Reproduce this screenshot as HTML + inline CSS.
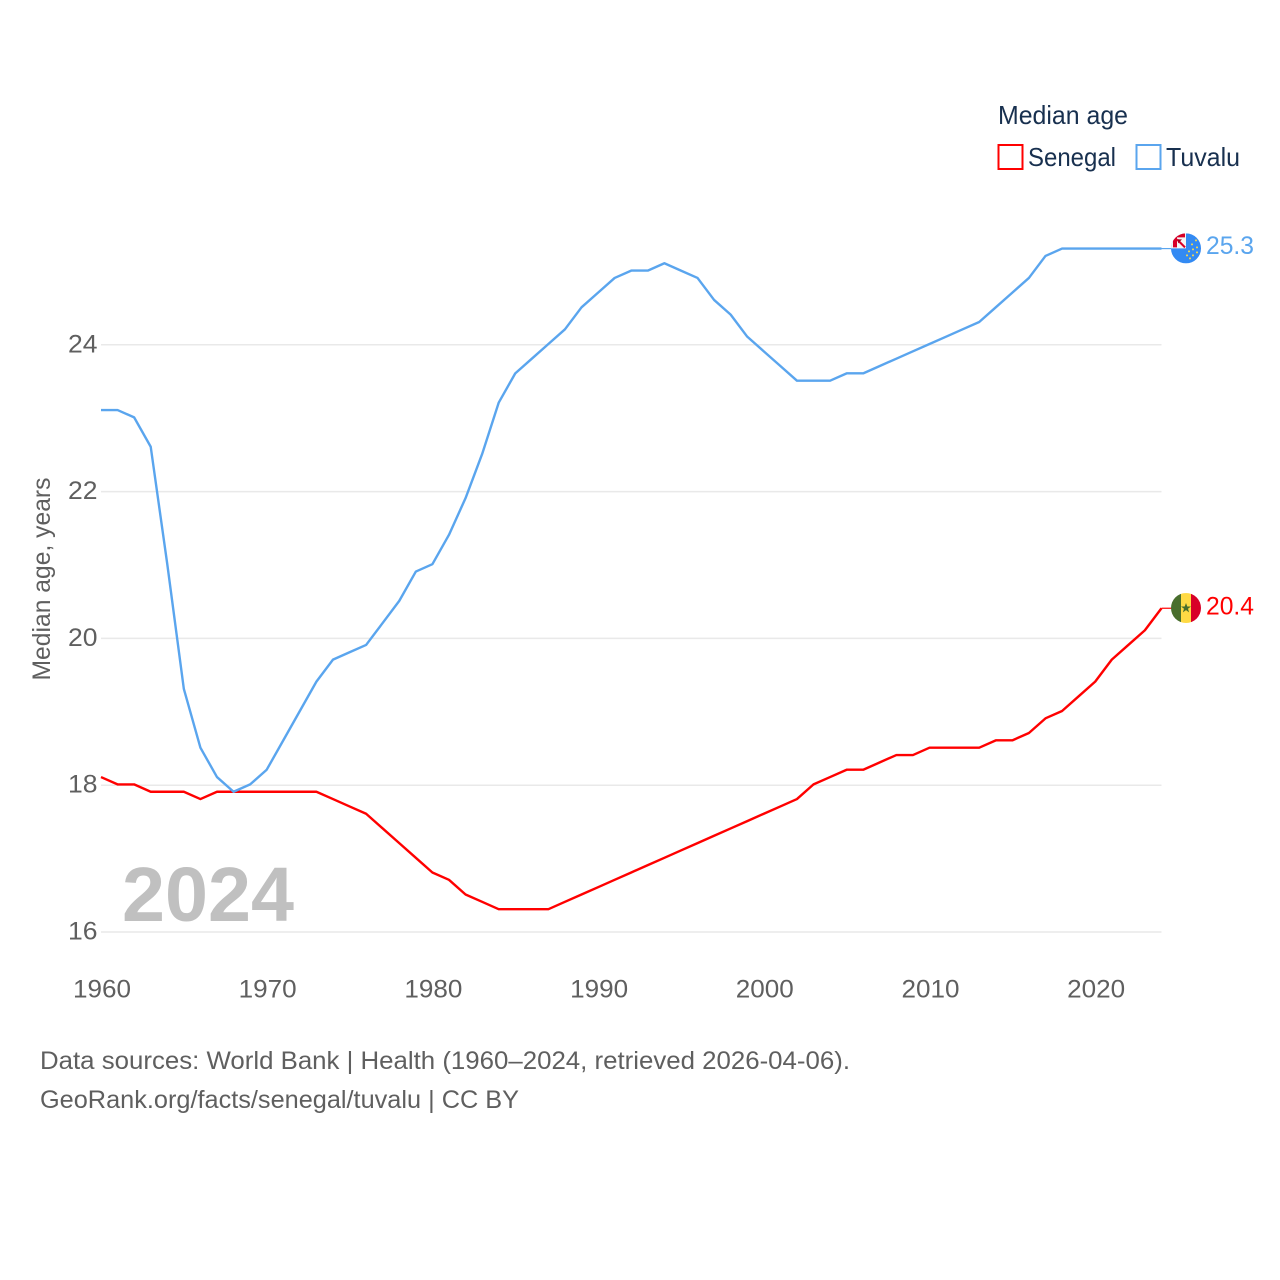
<!DOCTYPE html>
<html lang="en">
<head>
<meta charset="utf-8">
<title>Median age: Senegal and Tuvalu</title>
<style>
  html, body { margin: 0; padding: 0; background: #fff; }
  svg { display: block; }
  text { font-family: "Liberation Sans", sans-serif; }
</style>
</head>
<body>
<svg id="chart" xmlns="http://www.w3.org/2000/svg" width="1280" height="1280" viewBox="0 0 1280 1280">
  <rect width="1280" height="1280" fill="#ffffff"/>
  <g id="grid"></g>
  <g id="yticks"></g>
  <g id="xticks"></g>
  <text transform="translate(50 579) rotate(-90)" text-anchor="middle" font-size="25" fill="#5f5f5f" textLength="203" lengthAdjust="spacingAndGlyphs">Median age, years</text>
  <text x="122" y="921" font-size="77" font-weight="700" fill="#c0c0c0" textLength="172" lengthAdjust="spacingAndGlyphs">2024</text>
  <g id="series"></g>

  <g id="flag-tuvalu">
    <defs>
      <clipPath id="clip-tv"><circle cx="0" cy="0" r="15"/></clipPath>
      <clipPath id="clip-sn"><circle cx="0" cy="0" r="15"/></clipPath>
    </defs>
    <g clip-path="url(#clip-tv)">
      <rect x="-15" y="-15" width="30" height="30" fill="#338af3"/>
      <rect x="-15" y="-15" width="15" height="15" fill="#f5f5f5"/>
      <path d="M-13 -15H-1V-11H-9V-1H-13Z" fill="#d80027"/>
      <path d="M-9 -9L-1 -1" stroke="#d80027" stroke-width="2" fill="none"/>
      <path d="M-8 -5V-9H-4Z" fill="#a2001d"/>
      <g fill="#ffda44">
        <circle cx="10" cy="-8" r="1"/><circle cx="6" cy="-4" r="1"/><circle cx="11" cy="-1" r="1"/>
        <circle cx="7" cy="1" r="1"/><circle cx="11" cy="4" r="1"/><circle cx="3" cy="3" r="1"/>
        <circle cx="7" cy="7" r="1"/><circle cx="1" cy="7" r="1"/><circle cx="4" cy="10" r="1"/>
      </g>
    </g>
  </g>
  <g id="flag-senegal">
    <g clip-path="url(#clip-sn)">
      <rect x="-15" y="-15" width="10" height="30" fill="#496e2d"/>
      <rect x="-5" y="-15" width="10" height="30" fill="#ffda44"/>
      <rect x="5" y="-15" width="10" height="30" fill="#d80027"/>
      <path d="M0 -5L1.3 -1.5H5L2 .7L3.1 4.3L0 2.1L-3.1 4.3L-2 .7L-5 -1.5H-1.3Z" fill="#496e2d"/>
    </g>
  </g>
  <text id="value-tuvalu" x="1206" font-size="25" fill="#5aa5ee" textLength="48" lengthAdjust="spacingAndGlyphs"></text>
  <text id="value-senegal" x="1206" font-size="25" fill="#ff0000" textLength="48" lengthAdjust="spacingAndGlyphs"></text>

  <g>
    <text x="998" y="124" font-size="26" fill="#18304f" textLength="130" lengthAdjust="spacingAndGlyphs">Median age</text>
    <g>
      <rect x="998.5" y="145" width="24" height="24" fill="none" stroke="#ff0000" stroke-width="2"/>
      <text x="1028" y="166" font-size="26" fill="#18304f" textLength="88" lengthAdjust="spacingAndGlyphs">Senegal</text>
    </g>
    <g>
      <rect x="1136.5" y="145" width="24" height="24" fill="none" stroke="#5aa5ee" stroke-width="2"/>
      <text x="1166" y="166" font-size="26" fill="#18304f" textLength="74" lengthAdjust="spacingAndGlyphs">Tuvalu</text>
    </g>
  </g>

  <text x="40" y="1069" font-size="25" fill="#5f5f5f" textLength="810" lengthAdjust="spacingAndGlyphs">Data sources: World Bank | Health (1960–2024, retrieved 2026-04-06).</text>
  <text x="40" y="1108" font-size="25" fill="#5f5f5f" textLength="479" lengthAdjust="spacingAndGlyphs">GeoRank.org/facts/senegal/tuvalu | CC BY</text>
</svg>
<script>
const firstYear = 1960;
const xTickLabels = [1960, 1970, 1980, 1990, 2000, 2010, 2020];
const yTickLabels = [16, 18, 20, 22, 24];
const senegalValues = [
  18.1, 18.0, 18.0, 17.9, 17.9, 17.9, 17.8, 17.9, 17.9, 17.9,
  17.9, 17.9, 17.9, 17.9, 17.8, 17.7, 17.6, 17.4, 17.2, 17.0,
  16.8, 16.7, 16.5, 16.4, 16.3, 16.3, 16.3, 16.3, 16.4, 16.5,
  16.6, 16.7, 16.8, 16.9, 17.0, 17.1, 17.2, 17.3, 17.4, 17.5,
  17.6, 17.7, 17.8, 18.0, 18.1, 18.2, 18.2, 18.3, 18.4, 18.4,
  18.5, 18.5, 18.5, 18.5, 18.6, 18.6, 18.7, 18.9, 19.0, 19.2,
  19.4, 19.7, 19.9, 20.1, 20.4
];
const tuvaluValues = [
  23.1, 23.1, 23.0, 22.6, 21.0, 19.3, 18.5, 18.1, 17.9, 18.0,
  18.2, 18.6, 19.0, 19.4, 19.7, 19.8, 19.9, 20.2, 20.5, 20.9,
  21.0, 21.4, 21.9, 22.5, 23.2, 23.6, 23.8, 24.0, 24.2, 24.5,
  24.7, 24.9, 25.0, 25.0, 25.1, 25.0, 24.9, 24.6, 24.4, 24.1,
  23.9, 23.7, 23.5, 23.5, 23.5, 23.6, 23.6, 23.7, 23.8, 23.9,
  24.0, 24.1, 24.2, 24.3, 24.5, 24.7, 24.9, 25.2, 25.3, 25.3,
  25.3, 25.3, 25.3, 25.3, 25.3
];

const SVG_NS = 'http://www.w3.org/2000/svg';
const xScale = function (year) { return 101 + (year - 1960) * 16.57; };
const yScale = function (v) { return 932 - (v - 16) * 73.4; };
const lineY = function (v) { return yScale(v) - 0.8; };
const pick = function (id) { return document.getElementById(id); };
const gridLayer = pick('grid');
const yLayer = pick('yticks');
const xLayer = pick('xticks');
const seriesLayer = pick('series');

yTickLabels.forEach(function (v) {
  const line = document.createElementNS(SVG_NS, 'line');
  
  
  line.setAttribute('x1', xScale(1960));
  line.setAttribute('x2', xScale(2024));
  line.setAttribute('y1', yScale(v));
  line.setAttribute('y2', yScale(v));
  line.setAttribute('stroke', '#e9e9e9');
  line.setAttribute('stroke-width', '1.5');
  gridLayer.appendChild(line);

  const label = document.createElementNS(SVG_NS, 'text');
  
  
  label.setAttribute('x', 68);
  label.setAttribute('y', yScale(v) + 7.5);
  label.setAttribute('font-size', '25');
  label.setAttribute('fill', '#5f5f5f');
  label.setAttribute('textLength', '29.5');
  label.setAttribute('lengthAdjust', 'spacingAndGlyphs');
  label.textContent = v;
  yLayer.appendChild(label);
});

xTickLabels.forEach(function (year) {
  const label = document.createElementNS(SVG_NS, 'text');
  
  
  label.setAttribute('x', xScale(year) + 1);
  label.setAttribute('y', 997.5);
  label.setAttribute('text-anchor', 'middle');
  label.setAttribute('font-size', '25');
  label.setAttribute('fill', '#5f5f5f');
  label.setAttribute('textLength', '58');
  label.setAttribute('lengthAdjust', 'spacingAndGlyphs');
  label.textContent = year;
  xLayer.appendChild(label);
});

function pointsFor(values) {
  return values.map(function (v, i) {
    return xScale(firstYear + i).toFixed(2) + ',' + lineY(v).toFixed(2);
  }).join(' ');
}

const senegalLine = document.createElementNS(SVG_NS, 'polyline');


senegalLine.setAttribute('points', pointsFor(senegalValues));
senegalLine.setAttribute('fill', 'none');
senegalLine.setAttribute('stroke', '#ff0000');
senegalLine.setAttribute('stroke-width', '2.4');
senegalLine.setAttribute('stroke-linejoin', 'round');
seriesLayer.appendChild(senegalLine);

const tuvaluLine = document.createElementNS(SVG_NS, 'polyline');


tuvaluLine.setAttribute('points', pointsFor(tuvaluValues));
tuvaluLine.setAttribute('fill', 'none');
tuvaluLine.setAttribute('stroke', '#5aa5ee');
tuvaluLine.setAttribute('stroke-width', '2.4');
tuvaluLine.setAttribute('stroke-linejoin', 'round');
seriesLayer.appendChild(tuvaluLine);

const lastYear = firstYear + senegalValues.length - 1;
const senegalLast = senegalValues[senegalValues.length - 1];
const tuvaluLast = tuvaluValues[tuvaluValues.length - 1];

const senegalConnector = document.createElementNS(SVG_NS, 'line');


senegalConnector.setAttribute('x1', xScale(lastYear));
senegalConnector.setAttribute('x2', 1172);
senegalConnector.setAttribute('y1', lineY(senegalLast));
senegalConnector.setAttribute('y2', lineY(senegalLast));
senegalConnector.setAttribute('stroke', '#ff0000');
senegalConnector.setAttribute('stroke-width', '1.2');
seriesLayer.appendChild(senegalConnector);

const tuvaluConnector = document.createElementNS(SVG_NS, 'line');


tuvaluConnector.setAttribute('x1', xScale(lastYear));
tuvaluConnector.setAttribute('x2', 1172);
tuvaluConnector.setAttribute('y1', lineY(tuvaluLast));
tuvaluConnector.setAttribute('y2', lineY(tuvaluLast));
tuvaluConnector.setAttribute('stroke', '#5aa5ee');
tuvaluConnector.setAttribute('stroke-width', '1.2');
seriesLayer.appendChild(tuvaluConnector);

pick('flag-tuvalu').setAttribute('transform', 'translate(1186 ' + (yScale(tuvaluLast) - 1) + ')');
pick('flag-senegal').setAttribute('transform', 'translate(1186 ' + (yScale(senegalLast) - 1) + ')');

const tuvaluValueLabel = pick('value-tuvalu');
tuvaluValueLabel.setAttribute('y', yScale(tuvaluLast) + 4.5);
tuvaluValueLabel.textContent = tuvaluLast.toFixed(1);

const senegalValueLabel = pick('value-senegal');
senegalValueLabel.setAttribute('y', yScale(senegalLast) + 5.5);
senegalValueLabel.textContent = senegalLast.toFixed(1);
</script>
</body>
</html>
